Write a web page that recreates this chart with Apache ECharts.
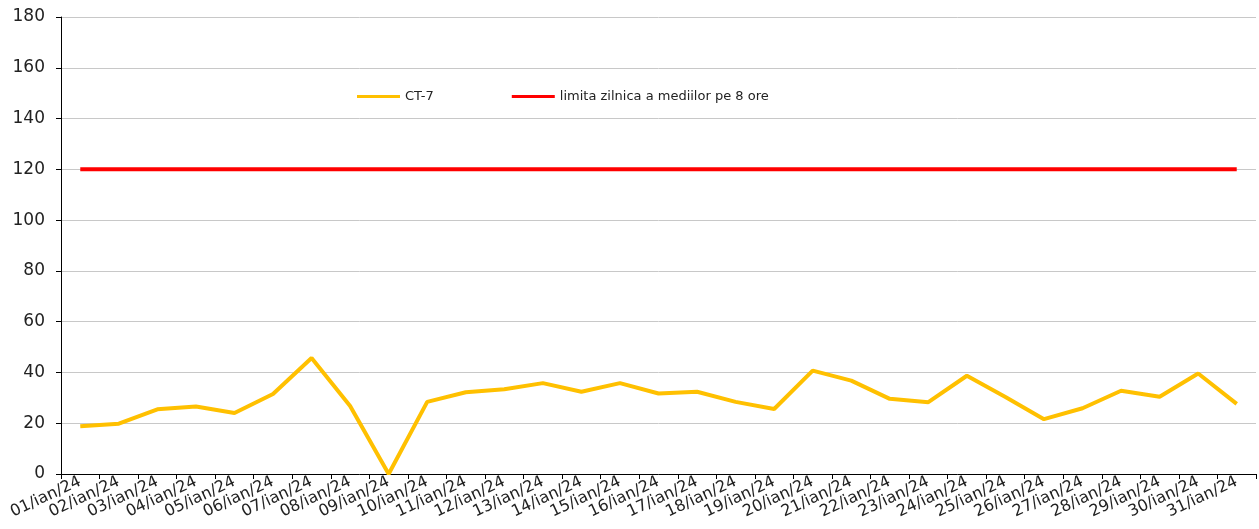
<!DOCTYPE html>
<html>
<head>
<meta charset="utf-8">
<script src="https://cdn.jsdelivr.net/npm/echarts@6/dist/echarts.min.js"></script>
<style>
    html, body { margin: 0; padding: 0; background: #fff; }
    #chart { width: 1259px; height: 529px; }
</style>
</head>
<body>
<div id="chart"></div>
<script>
// daily values, January 2024
const days = [
    '01/ian/24', '02/ian/24', '03/ian/24', '04/ian/24', '05/ian/24', '06/ian/24', '07/ian/24',
    '08/ian/24', '09/ian/24', '10/ian/24', '11/ian/24', '12/ian/24', '13/ian/24', '14/ian/24',
    '15/ian/24', '16/ian/24', '17/ian/24', '18/ian/24', '19/ian/24', '20/ian/24', '21/ian/24',
    '22/ian/24', '23/ian/24', '24/ian/24', '25/ian/24', '26/ian/24', '27/ian/24', '28/ian/24',
    '29/ian/24', '30/ian/24', '31/ian/24'
];
const ct7 = [
    18.8, 19.8, 25.5, 26.6, 24.0, 31.5, 45.7, 26.8, 0, 28.4, 32.2, 33.4, 35.8, 32.4, 35.8,
    31.7, 32.4, 28.4, 25.6, 40.7, 36.8, 29.6, 28.3, 38.7, 30.3, 21.6, 25.9, 32.8, 30.4, 39.6, 27.6
];
const limit = days.map(function () { return 120; });
const seriesNames = ['CT-7', 'limita zilnica a mediilor pe 8 ore'];

const font = 'DejaVu Sans';
const chart = echarts.init(document.getElementById('chart'));

chart.setOption({
    animation: false,
    legend: {
        left: 352,
        top: 85,
        icon: 'rect',
        itemWidth: 43,
        itemHeight: 3,
        itemGap: 78,
        textStyle: { fontFamily: font, fontSize: 13, color: '#222' },
        data: seriesNames
    },
    grid: {
        left: 61,
        right: 3,
        top: 17,
        bottom: 55,
        containLabel: false,
        outerBoundsMode: 'none'
    },
    xAxis: {
        type: 'category',
        data: days,
        boundaryGap: true,
        axisLine: { lineStyle: { color: '#000', width: 1 } },
        axisTick: { show: true, length: 5, lineStyle: { color: '#000' } },
        axisLabel: {
            interval: 0,
            rotate: 25,
            margin: 7,
            fontFamily: font,
            fontSize: 16,
            color: '#222'
        },
        splitLine: { show: false }
    },
    yAxis: {
        type: 'value',
        min: 0,
        max: 180,
        interval: 20,
        axisLine: { show: true, lineStyle: { color: '#000', width: 1 } },
        axisTick: { show: true, length: 5, lineStyle: { color: '#000' } },
        axisLabel: {
            margin: 16,
            fontFamily: font,
            fontSize: 17,
            color: '#222'
        },
        splitLine: { lineStyle: { color: '#c8c8c8', width: 1 } }
    },
    series: [
        {
            name: seriesNames[0],
            type: 'line',
            data: ct7,
            showSymbol: false,
            symbol: 'none',
            itemStyle: { color: '#FFC000' },
            lineStyle: { color: '#FFC000', width: 4 }
        },
        {
            name: seriesNames[1],
            type: 'line',
            data: limit,
            showSymbol: false,
            symbol: 'none',
            itemStyle: { color: '#FF0000' },
            lineStyle: { color: '#FF0000', width: 4 }
        }
    ]
});
</script>
</body>
</html>
